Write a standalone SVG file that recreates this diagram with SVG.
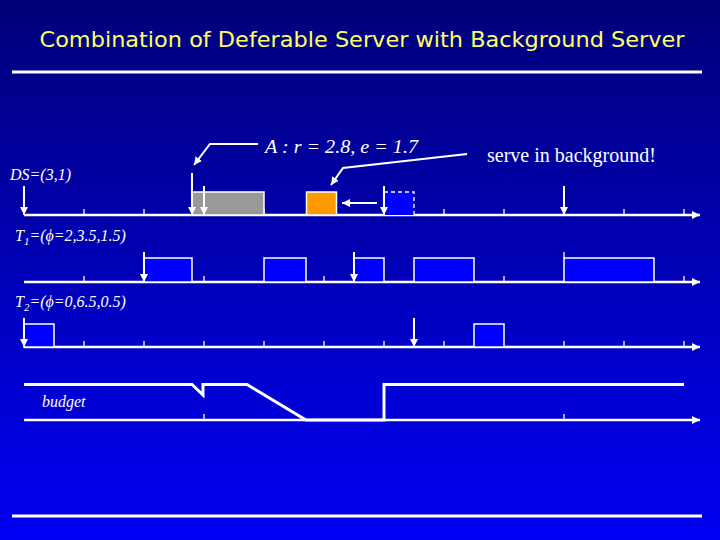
<svg xmlns="http://www.w3.org/2000/svg" width="720" height="540" viewBox="0 0 720 540">
<defs>
<linearGradient id="bg" x1="0" y1="0" x2="0" y2="1">
<stop offset="0" stop-color="#00007a"/>
<stop offset="1" stop-color="#0000f4"/>
</linearGradient>
<marker id="ah" markerWidth="8" markerHeight="8" refX="8" refY="4" orient="auto" markerUnits="userSpaceOnUse">
<path d="M0,0 L8,4 L0,8 z" fill="#fff"/>
</marker>
<style>
.ax{stroke:#fff;stroke-width:2.5;fill:none}
.tk{stroke:#fff;stroke-width:1.3}
.arr{stroke:#fff;stroke-width:2}
.job{fill:#0000ff;stroke:#fff;stroke-width:1.5}
.lbl{font-family:"Liberation Serif",serif;font-style:italic;fill:#fff}
.bud{stroke:#fff;stroke-width:3;fill:none}
</style>
</defs>
<rect width="720" height="540" fill="url(#bg)"/>
<g id="title">
<text x="362" y="47" text-anchor="middle" font-family="'DejaVu Sans',sans-serif" font-size="22" fill="#ffff66" textLength="645" lengthAdjust="spacingAndGlyphs">Combination of Deferable Server with Background Server</text>
<line x1="12" y1="72" x2="702" y2="72" stroke="#fff" stroke-width="3"/>
</g>
<g id="ds">
<text class="lbl" x="10" y="180" font-size="16">DS=(3,1)</text>
<line class="ax" x1="24" y1="215" x2="700" y2="215" marker-end="url(#ah)"/>
<path class="tk" d="M84,209V215M144,209V215M264,209V215M324,209V215M444,209V215M504,209V215M624,209V215M684,209V215"/>
<rect x="192" y="192" width="72" height="23" fill="#999" stroke="#fff" stroke-width="1.5"/>
<rect x="306.5" y="192" width="30" height="23" fill="#ff9900" stroke="#fff" stroke-width="1.5"/>
<rect x="384" y="192" width="30" height="23" fill="#0000ff"/>
<path d="M384,192H414V215" stroke="#fff" stroke-width="1.3" fill="none" stroke-dasharray="4,3"/>
<line class="arr" x1="24" y1="186" x2="24" y2="215" marker-end="url(#ah)"/>
<line class="arr" x1="192" y1="173" x2="192" y2="215" marker-end="url(#ah)"/>
<line class="arr" x1="204" y1="186" x2="204" y2="215" marker-end="url(#ah)"/>
<line class="arr" x1="384" y1="186" x2="384" y2="215" marker-end="url(#ah)"/>
<line class="arr" x1="564" y1="186" x2="564" y2="215" marker-end="url(#ah)"/>
<line class="arr" x1="377" y1="203" x2="342" y2="203" marker-end="url(#ah)"/>
</g>
<g id="t1">
<text class="lbl" x="15" y="241" font-size="16">T<tspan font-size="11" dy="4">1</tspan><tspan dy="-4">=(ϕ=2,3.5,1.5)</tspan></text>
<line class="ax" x1="24" y1="282" x2="700" y2="282" marker-end="url(#ah)"/>
<path class="tk" d="M84,276V282M204,276V282M324,276V282M504,276V282M684,276V282"/>
<rect class="job" x="144" y="258" width="48" height="24"/>
<rect class="job" x="264" y="258" width="42" height="24"/>
<rect class="job" x="354" y="258" width="30" height="24"/>
<rect class="job" x="414" y="258" width="60" height="24"/>
<rect class="job" x="564" y="258" width="90" height="24"/>
<line class="arr" x1="144" y1="252" x2="144" y2="282" marker-end="url(#ah)"/>
<line class="arr" x1="354" y1="252" x2="354" y2="282" marker-end="url(#ah)"/>
<line class="tk" x1="564" y1="252" x2="564" y2="258"/>
</g>
<g id="t2">
<text class="lbl" x="15" y="307" font-size="16">T<tspan font-size="11" dy="4">2</tspan><tspan dy="-4">=(ϕ=0,6.5,0.5)</tspan></text>
<line class="ax" x1="24" y1="347" x2="700" y2="347" marker-end="url(#ah)"/>
<path class="tk" d="M84,341V347M144,341V347M204,341V347M264,341V347M324,341V347M384,341V347M444,341V347M564,341V347M624,341V347M684,341V347"/>
<rect class="job" x="24" y="324" width="30" height="23"/>
<rect class="job" x="474" y="324" width="30" height="23"/>
<line class="arr" x1="24" y1="318" x2="24" y2="347" marker-end="url(#ah)"/>
<line class="arr" x1="414" y1="318" x2="414" y2="347" marker-end="url(#ah)"/>
</g>
<g id="budget">
<text class="lbl" x="42" y="407" font-size="16">budget</text>
<line class="ax" x1="24" y1="420" x2="700" y2="420" marker-end="url(#ah)"/>
<path class="tk" d="M204,414V420M564,414V420"/>
<path class="bud" d="M24,384.5H192L203,395V384.5H247L306,420H384V384.5H684"/>
</g>
<g id="annotations">
<text class="lbl" x="265" y="153" font-size="18" textLength="153" lengthAdjust="spacingAndGlyphs">A : r = 2.8, e = 1.7</text>
<text x="487" y="162" font-family="'Liberation Serif',serif" font-size="20" fill="#fff">serve in background!</text>
</g>
<g id="connectors">
<path d="M258,144H210L194,165" class="arr" fill="none" marker-end="url(#ah)"/>
<path d="M467,154L343,168L331,185" class="arr" fill="none" marker-end="url(#ah)"/>
</g>
<line x1="12" y1="516" x2="702" y2="516" stroke="#fff" stroke-width="3"/>
</svg>
